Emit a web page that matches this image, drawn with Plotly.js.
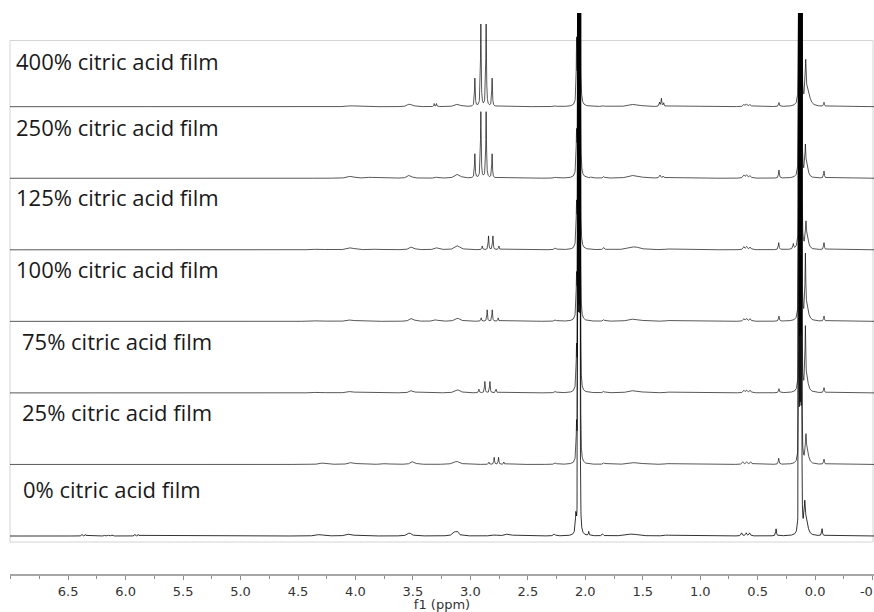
<!DOCTYPE html>
<html>
<head>
<meta charset="utf-8">
<script src="https://cdn.plot.ly/plotly-3.0.1.min.js"></script>
<style>
  html, body { margin: 0; padding: 0; background: #ffffff; }
  #chart { width: 874px; height: 612px; }
</style>
</head>
<body>
<div id="chart"></div>
<script>
// ---------------- DATA ----------------
// Spectrum names, bottom to top
const spectrumLabels = [
  "0% citric acid film",
  "25% citric acid film",
  "75% citric acid film",
  "100% citric acid film",
  "125% citric acid film",
  "250% citric acid film",
  "400% citric acid film"
];

// Peak tables: [shift (ppm), height (intensity units), half width (ppm)]
const peaks0 = [
  [6.38, 1.5, 0.004], [6.35, 1.5, 0.004], [6.18, 1, 0.004], [6.15, 1, 0.004], [6.12, 1, 0.004],
  [5.92, 1.5, 0.004], [5.89, 1.5, 0.004],
  [4.31, 1.5, 0.03], [4.05, 2, 0.03], [3.53, 3, 0.02], [3.135, 4, 0.02], [3.11, 3, 0.01],
  [2.79, 1, 0.02], [2.67, 2, 0.03], [2.27, 2, 0.008],
  [2.082, 18, 0.005], [2.064, 2000, 0.0007], [2.058, 2000, 0.0007], [2.052, 2000, 0.0007], [2.046, 2000, 0.0007],
  [1.97, 4, 0.003], [1.85, 2, 0.006], [1.59, 2, 0.05], [1.29, 1, 0.02],
  [0.64, 3, 0.006], [0.60, 3, 0.006], [0.57, 3, 0.006],
  [0.34, 7, 0.004],
  [0.142, 2000, 0.0007], [0.134, 2000, 0.0007], [0.126, 2000, 0.0007], [0.118, 2000, 0.0007],
  [0.09, 30, 0.008], [0.07, 8, 0.015],
  [-0.06, 7, 0.004]
];
const peaks25 = [
  [4.28, 1.5, 0.03], [4.03, 2, 0.03], [3.73, 1, 0.03], [3.50, 3, 0.02], [3.12, 3, 0.03],
  [2.839, 2.3, 0.0035], [2.793, 7, 0.0035], [2.755, 7, 0.0035], [2.709, 2.3, 0.0035],
  [2.26, 1.7, 0.008],
  [2.076, 35, 0.004], [2.062, 2000, 0.0007], [2.056, 2000, 0.0007], [2.050, 2000, 0.0007], [2.044, 2000, 0.0007],
  [1.84, 1.5, 0.006], [1.56, 2, 0.05], [1.29, 0.8, 0.02],
  [0.63, 2.5, 0.007], [0.595, 2.5, 0.007], [0.56, 2.5, 0.007],
  [0.317, 6, 0.004],
  [0.141, 2000, 0.0007], [0.133, 2000, 0.0007], [0.125, 2000, 0.0007], [0.117, 2000, 0.0007],
  [0.08, 25, 0.006], [0.065, 8, 0.015],
  [-0.077, 5, 0.004]
];
const peaks75 = [
  [4.32, 1, 0.03], [4.04, 1.5, 0.03], [3.51, 2.5, 0.02], [3.11, 3, 0.025],
  [2.926, 3.6, 0.0035], [2.874, 11.3, 0.0035], [2.830, 11.3, 0.0035], [2.776, 3.6, 0.0035],
  [2.26, 1.5, 0.008],
  [2.076, 40, 0.004], [2.062, 2000, 0.0007], [2.056, 2000, 0.0007], [2.050, 2000, 0.0007], [2.044, 2000, 0.0007],
  [1.84, 1.5, 0.006], [1.57, 2.5, 0.05], [1.28, 0.8, 0.02],
  [0.62, 2.5, 0.007], [0.595, 2.5, 0.007], [0.565, 2.5, 0.007],
  [0.315, 4, 0.004],
  [0.141, 2000, 0.0007], [0.133, 2000, 0.0007], [0.125, 2000, 0.0007], [0.117, 2000, 0.0007],
  [0.085, 60, 0.004], [0.07, 10, 0.015],
  [-0.077, 5, 0.004]
];
const peaks100 = [
  [4.32, 1, 0.03], [4.04, 1.5, 0.03], [3.51, 3, 0.02], [3.30, 1.5, 0.02], [3.11, 3, 0.025],
  [2.906, 3.4, 0.0035], [2.854, 11.4, 0.0035], [2.810, 11.4, 0.0035], [2.758, 3.4, 0.0035],
  [2.26, 1.5, 0.008],
  [2.076, 40, 0.004], [2.062, 2000, 0.0007], [2.056, 2000, 0.0007], [2.050, 2000, 0.0007], [2.044, 2000, 0.0007],
  [1.84, 1.5, 0.006], [1.57, 2.5, 0.05], [1.28, 0.8, 0.02],
  [0.62, 2.5, 0.007], [0.595, 2.5, 0.007], [0.565, 2.5, 0.007],
  [0.315, 5, 0.004],
  [0.141, 2000, 0.0007], [0.133, 2000, 0.0007], [0.125, 2000, 0.0007], [0.117, 2000, 0.0007],
  [0.085, 60, 0.004], [0.07, 12, 0.015],
  [-0.077, 5, 0.004]
];
const peaks125 = [
  [4.32, 1, 0.03], [4.04, 2, 0.03], [3.80, 1, 0.03], [3.51, 3, 0.02], [3.29, 2, 0.02], [3.11, 4, 0.025],
  [2.897, 3.7, 0.0035], [2.842, 13.7, 0.0035], [2.804, 13.7, 0.0035], [2.752, 3.7, 0.0035],
  [2.26, 2, 0.008],
  [2.076, 40, 0.004], [2.062, 2000, 0.0007], [2.056, 2000, 0.0007], [2.050, 2000, 0.0007], [2.044, 2000, 0.0007],
  [1.84, 2, 0.006], [1.57, 3, 0.05], [1.28, 0.8, 0.02],
  [0.62, 3, 0.007], [0.595, 3, 0.007], [0.565, 2.5, 0.007],
  [0.317, 7, 0.004], [0.19, 5, 0.004],
  [0.141, 2000, 0.0007], [0.133, 2000, 0.0007], [0.125, 2000, 0.0007], [0.117, 2000, 0.0007],
  [0.08, 24, 0.006], [0.065, 8, 0.012],
  [-0.077, 7, 0.004]
];
const peaks250 = [
  [4.04, 2, 0.03], [3.87, 1, 0.03], [3.53, 3, 0.02], [3.30, 1, 0.01], [3.11, 4, 0.025],
  [2.961, 24, 0.0035], [2.909, 66, 0.0035], [2.863, 66, 0.0035], [2.811, 24, 0.0035],
  [2.26, 1, 0.01],
  [2.076, 40, 0.004], [2.062, 2000, 0.0007], [2.056, 2000, 0.0007], [2.050, 2000, 0.0007], [2.044, 2000, 0.0007],
  [1.95, 1, 0.004], [1.84, 1.5, 0.006], [1.57, 3, 0.05],
  [1.35, 3, 0.006], [1.32, 2, 0.006],
  [0.62, 3, 0.008], [0.595, 3, 0.008], [0.565, 2.5, 0.008],
  [0.315, 8, 0.004],
  [0.141, 2000, 0.0007], [0.133, 2000, 0.0007], [0.125, 2000, 0.0007], [0.117, 2000, 0.0007],
  [0.085, 28, 0.005], [0.07, 10, 0.012],
  [-0.077, 7, 0.004]
];
const peaks400 = [
  [4.04, 1, 0.03], [3.54, 2, 0.015], [3.51, 2, 0.015],
  [3.315, 3, 0.003], [3.295, 3, 0.003], [3.11, 2.5, 0.025],
  [2.961, 28, 0.0035], [2.909, 82, 0.0035], [2.863, 82, 0.0035], [2.811, 28, 0.0035],
  [2.26, 1, 0.01],
  [2.076, 60, 0.003], [2.062, 2000, 0.0007], [2.056, 2000, 0.0007], [2.050, 2000, 0.0007], [2.044, 2000, 0.0007],
  [1.84, 1, 0.01], [1.57, 2.5, 0.05],
  [1.355, 4, 0.004], [1.338, 8, 0.004], [1.318, 3.5, 0.004],
  [0.62, 2, 0.008], [0.595, 2.5, 0.008], [0.565, 2, 0.008],
  [0.315, 4, 0.004],
  [0.141, 2000, 0.0007], [0.133, 2000, 0.0007], [0.125, 2000, 0.0007], [0.117, 2000, 0.0007],
  [0.082, 40, 0.006], [0.06, 12, 0.02],
  [-0.077, 4, 0.004]
];

// Axis tick labels
const tickLabels = ["6.5","6.0","5.5","5.0","4.5","4.0","3.5","3.0","2.5","2.0","1.5","1.0","0.5","0.0","-0.5"];
const axisTitle = "f1 (ppm)";

// ---------------- BUILD ----------------
const peakTables = [peaks0, peaks25, peaks75, peaks100, peaks125, peaks250, peaks400];
const tickVals = tickLabels.map(Number);

const xMin = -0.512, xMax = 7.006, step = 0.001;
const xs = [];
for (let v = xMin; v <= xMax + 1e-9; v += step) xs.push(+v.toFixed(4));

// stacking (layout): baseline of spectrum i in the y units of the plot
const baseY = 38, gapY = 71.55;

function spectrum(tbl) {
  return xs.map(x => {
    let s = 0;
    for (const [c, h, w] of tbl) { const d = (x - c) / w; s += h / (1 + d * d); }
    return s;
  });
}

const lineColors = ["rgba(0,0,0,0.8)", "rgba(0,0,0,0.66)", "rgba(0,0,0,0.66)", "rgba(0,0,0,0.66)",
                    "rgba(0,0,0,0.66)", "rgba(0,0,0,0.66)", "rgba(0,0,0,0.66)"];
const traces = peakTables.map((tbl, i) => {
  const off = baseY + gapY * i;
  return {
    type: "scatter", mode: "lines",
    x: xs, y: spectrum(tbl).map(v => v + off),
    line: { color: lineColors[i], width: 1 },
    hoverinfo: "skip", showlegend: false
  };
});

// label placement (layout)
const labelLeft = [11, 10, 10, 4, 4, 4, 4];          // px from plot left
const labelLift = [47, 52, 52, 52.5, 53, 51, 46];    // px above baseline (text centre)
const annotations = spectrumLabels.map((t, i) => ({
  text: t, showarrow: false,
  xref: "paper", x: labelLeft[i] / 864, xanchor: "left",
  yref: "y", y: baseY + gapY * i + labelLift[i], yanchor: "middle",
  font: { family: "Open Sans", size: 22, color: "#1a1a1a" }
}));

const layout = {
  width: 874, height: 612,
  margin: { l: 10, r: 0, t: 13, b: 38, pad: 0 },
  paper_bgcolor: "#ffffff", plot_bgcolor: "#ffffff",
  showlegend: false,
  xaxis: {
    range: [xMax, xMin],
    showgrid: false, zeroline: false,
    showline: true, linecolor: "#a6a6a6", linewidth: 2,
    ticks: "outside", ticklen: 4, tickwidth: 1, tickcolor: "#8c8c8c",
    tickmode: "array", tickvals: tickVals, ticktext: tickLabels,
    ticklabeloverflow: "allow",
    tickfont: { family: "DejaVu Sans", size: 13, color: "#333333" },
    minor: { dtick: 0.25, tick0: 0, ticks: "outside", ticklen: 2.5, tickwidth: 1, tickcolor: "#8c8c8c", showgrid: false },
    title: { text: axisTitle, font: { family: "DejaVu Sans", size: 13, color: "#333333" }, standoff: 0 },
    fixedrange: true
  },
  yaxis: { visible: false, range: [0, 561], fixedrange: true },
  shapes: [{
    type: "rect", xref: "paper", yref: "y",
    x0: 0, x1: 863 / 864, y0: 32, y1: 533.5,
    line: { color: "#d4d4d4", width: 1 }, layer: "below"
  }],
  annotations: annotations
};

Plotly.newPlot("chart", traces, layout, { displayModeBar: false, staticPlot: true });
</script>
</body>
</html>
